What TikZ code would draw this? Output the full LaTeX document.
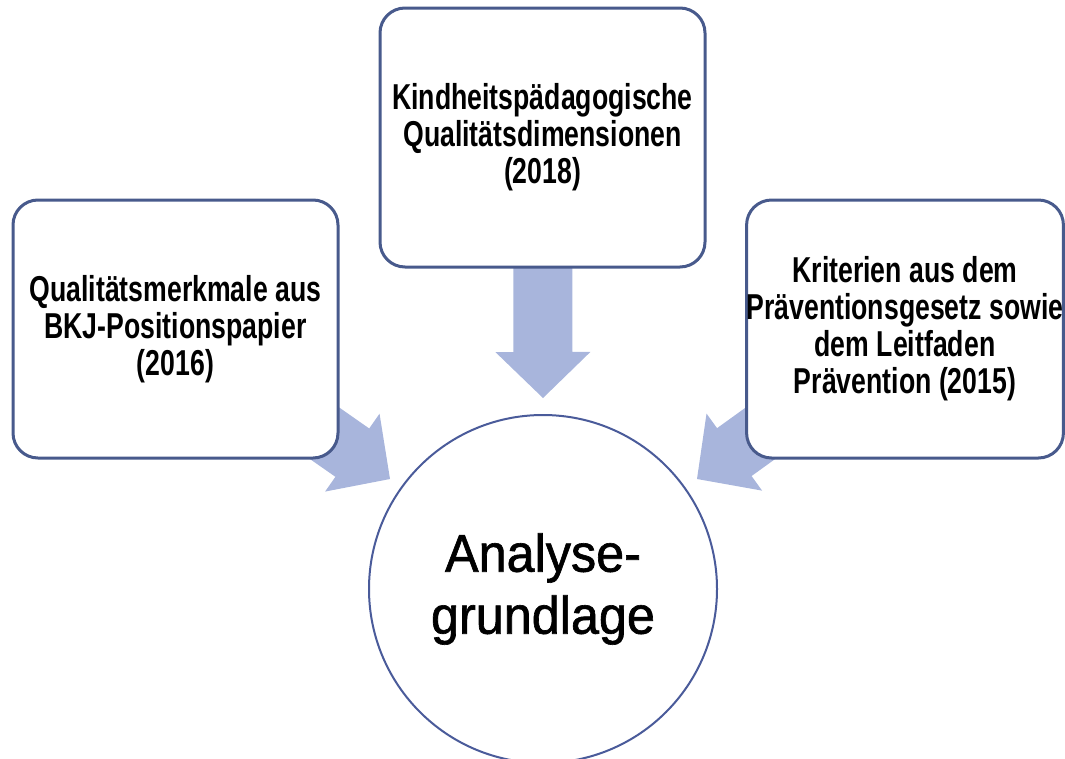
\documentclass[tikz,border=0pt]{standalone}
\usepackage{fontspec}
\setmainfont{Liberation Sans}
\newfontfamily\boxfont[FakeStretch=0.74]{Liberation Sans}
\newfontfamily\circfont[FakeStretch=0.95,FakeBold=1.2]{Liberation Sans}
\usetikzlibrary{calc,backgrounds}
\definecolor{boxline}{RGB}{72,90,140}
\definecolor{arrowfill}{RGB}{168,181,220}
\definecolor{circline}{RGB}{74,91,154}
\tikzset{
  srcbox/.style={draw=boxline, line width=3pt, fill=white, rounded corners=25pt,
    align=center, inner sep=0pt,
    font=\boxfont\bfseries\fontsize{36}{37}\selectfont},
  target/.style={circle, draw=circline, line width=2pt, fill=white, inner sep=0pt,
    minimum size=348pt, align=center,
    font=\circfont\fontsize{53}{62}\selectfont},
  blockfill/.style={fill=arrowfill}
}
\newcommand\blockarrow[2]{%
  \coordinate (hb) at ($(#2)!46pt!(#1)$);
  \fill[blockfill] ($(#1)!29.5pt!90:(#2)$) -- ($(hb)!29.5pt!90:(#2)$)
    -- ($(hb)!47.5pt!90:(#2)$) -- (#2) -- ($(hb)!47.5pt!-90:(#2)$)
    -- ($(hb)!29.5pt!-90:(#2)$) -- ($(#1)!29.5pt!-90:(#2)$) -- cycle;
}
\begin{document}
\begin{tikzpicture}[x=1pt,y=-1pt]
\useasboundingbox (0,0) rectangle (1065,758);
\node[srcbox, minimum width=325pt, minimum height=258pt] (lb) at (175.5,329)
  {Qualitätsmerkmale aus\\BKJ-Positionspapier\\(2016)};
\node[srcbox, minimum width=325pt, minimum height=259pt] (tb) at (542.5,137.5)
  {Kindheitspädagogische\\Qualitätsdimensionen\\(2018)};
\node[srcbox, minimum width=316pt, minimum height=258pt] (rb) at (905,329)
  {Kriterien aus dem\\Präventionsgesetz sowie\\dem Leitfaden\\Prävention (2015)};
\node[target] (ag) at (543,589) {Analyse-\\grundlage};
\coordinate (tl) at (390,479);
\coordinate (tt) at (543,398);
\coordinate (tr) at (697,479);
\begin{pgfonlayer}{background}
  \blockarrow{lb.center}{tl}
  \blockarrow{tb.center}{tt}
  \blockarrow{rb.center}{tr}
\end{pgfonlayer}
\end{tikzpicture}
\end{document}
